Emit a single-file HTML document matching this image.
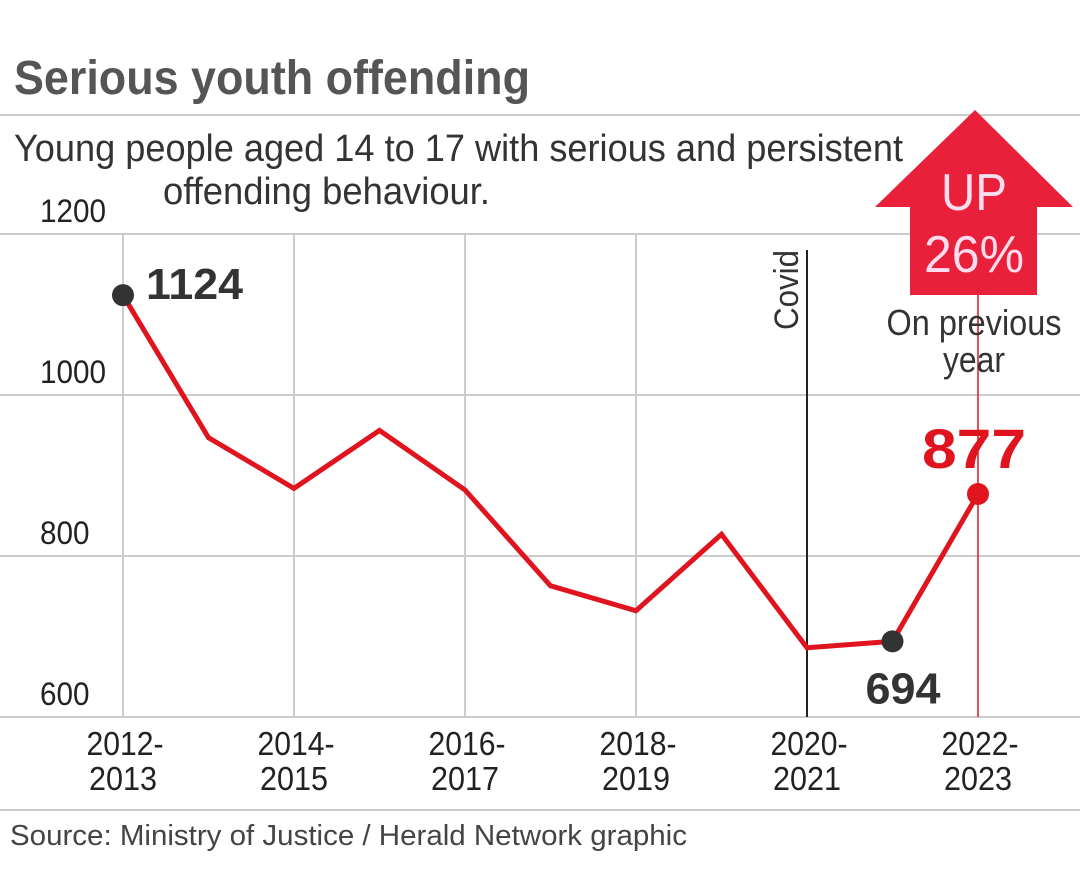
<!DOCTYPE html>
<html><head><meta charset="utf-8"><style>
html,body{margin:0;padding:0;background:#fff;width:1080px;height:874px;overflow:hidden}
svg text{font-family:"Liberation Sans Narrow","Liberation Sans",sans-serif}
</style></head><body>
<svg id="c" width="1080" height="874" viewBox="0 0 1080 874" xmlns="http://www.w3.org/2000/svg">
<text x="14" y="94" font-size="48" font-weight="bold" fill="#555" textLength="516" lengthAdjust="spacingAndGlyphs">Serious youth offending</text>
<line x1="0" y1="115" x2="1080" y2="115" stroke="#ccc" stroke-width="2"/>
<text x="14" y="161" font-size="38" fill="#333" textLength="889" lengthAdjust="spacingAndGlyphs">Young people aged 14 to 17 with serious and persistent</text>
<text x="163" y="204" font-size="38" fill="#333" textLength="327" lengthAdjust="spacingAndGlyphs">offending behaviour.</text>
<g id="grid"></g>
<g id="axes"></g>
<polyline id="line" fill="none" stroke="#e0141e" stroke-width="5" stroke-linejoin="miter"/>
<g id="pts"></g>
<g>
<polygon points="975,110 1073,207 1037,207 1037,295 910,295 910,207 875,207" fill="#e8203a"/>
<text x="974" y="210" font-size="52" fill="#fde" text-anchor="middle" textLength="66" lengthAdjust="spacingAndGlyphs">UP</text>
<text x="974" y="272" font-size="52" fill="#fde" text-anchor="middle" textLength="100" lengthAdjust="spacingAndGlyphs">26%</text>
</g>
<text x="974" y="335" font-size="36" fill="#333" text-anchor="middle" textLength="175" lengthAdjust="spacingAndGlyphs">On previous</text>
<text x="974" y="372" font-size="36" fill="#333" text-anchor="middle" textLength="62" lengthAdjust="spacingAndGlyphs">year</text>
<text transform="translate(798,330) rotate(-90)" font-size="34" fill="#333" textLength="80" lengthAdjust="spacingAndGlyphs">Covid</text>
<line x1="0" y1="810" x2="1080" y2="810" stroke="#ccc" stroke-width="2"/>
<text x="10" y="845" font-size="29" fill="#444" textLength="677" lengthAdjust="spacingAndGlyphs">Source: Ministry of Justice / Herald Network graphic</text>
</svg>
<script>
const years=["2012-2013","2013-2014","2014-2015","2015-2016","2016-2017","2017-2018","2018-2019","2019-2020","2020-2021","2021-2022","2022-2023"];
const values=[1124,947,884,956,882,763,732,827,686,694,877];
const yTicks=[600,800,1000,1200];
const NS="http://www.w3.org/2000/svg";
function x(i){return 123+i*85.5;}
function y(v){return 717-(v-600)*161/200;}
function mk(tag,attrs,parent,txt){const e=document.createElementNS(NS,tag);for(const k in attrs)e.setAttribute(k,attrs[k]);if(txt!==undefined)e.textContent=txt;document.getElementById(parent).appendChild(e);return e;}
yTicks.forEach(t=>{
 const l=mk('line',{x1:0,x2:1080,y1:y(t),y2:y(t),stroke:'#ccc','stroke-width':2},'grid');
 
 
 const tx=mk('text',{x:40,y:y(t)-12,'font-size':32,fill:'#222',textLength:String(t).length*16.5,lengthAdjust:'spacingAndGlyphs'},'axes',t);
 
 
});
years.forEach((yr,i)=>{
 if(i%2)return;
 const last=i===years.length-1, covid=yr==="2020-2021";
 const l=mk('line',{x1:x(i),x2:x(i),y1:last?180:(covid?250:y(1200)),y2:y(600),stroke:last?'#e0141e':(covid?'#222':'#ccc'),'stroke-width':last?1.5:2},'grid');
 
 
 const p=yr.split('-');
 const t1=mk('text',{x:x(i)+2,y:755,'font-size':33,fill:'#222','text-anchor':'middle',textLength:77,lengthAdjust:'spacingAndGlyphs'},'axes',p[0]+'-');
 
 
 const t2=mk('text',{x:x(i),y:790,'font-size':33,fill:'#222','text-anchor':'middle',textLength:68,lengthAdjust:'spacingAndGlyphs'},'axes',p[1]);
 
 
});
document.getElementById('line').setAttribute('points',values.map((v,i)=>x(i)+','+y(v)).join(' '));
const n=values.length;
[[0,'#333',146,4,'start',44,97],[n-2,'#333',903,62,'middle',44,75],[n-1,'#e0141e',974,-26,'middle',56,104]].forEach(([i,c,lx,dy,a,fs,tl])=>{
 const d=mk('circle',{cx:x(i),cy:y(values[i]),r:11,fill:c},'pts');
 
 
 const t=mk('text',{x:lx,y:y(values[i])+dy,'font-size':fs,'font-weight':'bold',fill:c,'text-anchor':a,textLength:tl,lengthAdjust:'spacingAndGlyphs'},'pts',values[i]);
 
 
});
</script>
</body></html>
